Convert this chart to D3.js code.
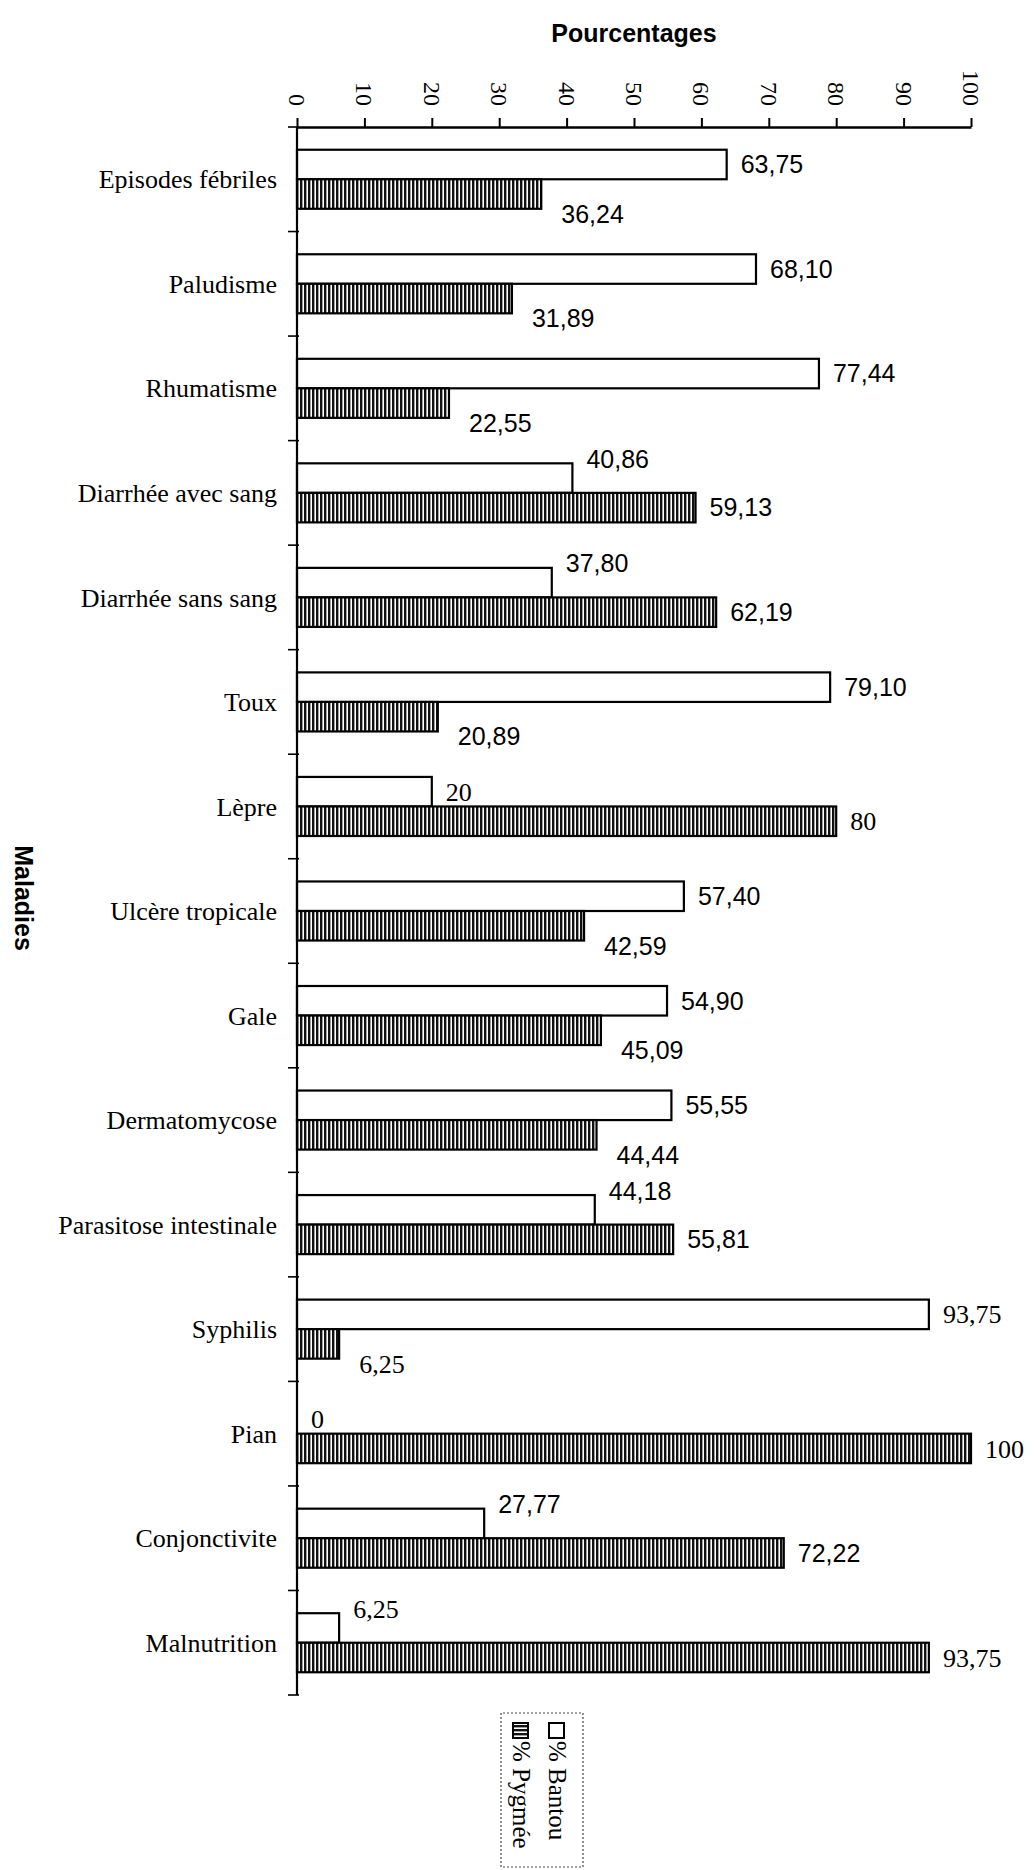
<!DOCTYPE html>
<html>
<head>
<meta charset="utf-8">
<script src="https://cdn.jsdelivr.net/npm/d3@7"></script>
<style>
  html, body { margin: 0; padding: 0; background: #fff; }
  svg { display: block; }
</style>
</head>
<body>
<script>
// ---------------- data ----------------
const categories = ["Episodes fébriles","Paludisme","Rhumatisme","Diarrhée avec sang","Diarrhée sans sang","Toux","Lèpre","Ulcère tropicale","Gale","Dermatomycose","Parasitose intestinale","Syphilis","Pian","Conjonctivite","Malnutrition"];
const bantou = [63.75, 68.10, 77.44, 40.86, 37.80, 79.10, 20, 57.40, 54.90, 55.55, 44.18, 93.75, 0, 27.77, 6.25];
const pygmee = [36.24, 31.89, 22.55, 59.13, 62.19, 20.89, 80, 42.59, 45.09, 44.44, 55.81, 6.25, 100, 72.22, 93.75];
const seriesNames = ["% Bantou", "% Pygmée"];
const xTicks = [0, 10, 20, 30, 40, 50, 60, 70, 80, 90, 100];
const xTitle = "Pourcentages";
const yTitle = "Maladies";

// ---------------- layout ----------------
const W = 1034, H = 1870;
const mLeft = 297, mRight = 971, mTop = 127, mBottom = 1695;
const serifValueCats = new Set(["Lèpre", "Syphilis", "Pian", "Malnutrition"]);
const centeredLabels = new Set(["Lèpre|0", "Pian|0"]);

const svg = d3.select("body").append("svg").attr("width", W).attr("height", H);
svg.append("rect").attr("width", W).attr("height", H).attr("fill", "#fff");

const defs = svg.append("defs");
const pat = defs.append("pattern").attr("id", "hatch").attr("patternUnits", "userSpaceOnUse")
  .attr("width", 4).attr("height", 8);
pat.append("rect").attr("width", 4).attr("height", 8).attr("fill", "#fff");
pat.append("rect").attr("x", 0).attr("width", 2.4).attr("height", 8).attr("fill", "#111");

const x = d3.scaleLinear().domain([0, 100]).range([mLeft, mRight]);
const y = d3.scaleBand().domain(categories).range([mTop, mBottom]).paddingInner(0.435).paddingOuter(0.2175);
const ys = d3.scaleBand().domain([0, 1]).range([0, y.bandwidth()]);

const fmt = v => Number.isInteger(v) ? String(v) : v.toFixed(2).replace(".", ",");

// ---------------- bars ----------------
const rows = categories.map((c, i) => ({ c, vals: [bantou[i], pygmee[i]] }));
const g = svg.append("g");
rows.forEach(r => {
  r.vals.forEach((v, s) => {
    g.append("rect")
      .attr("x", x(0))
      .attr("y", y(r.c) + ys(s))
      .attr("width", Math.max(0, x(v) - x(0)))
      .attr("height", ys.bandwidth())
      .attr("fill", s === 0 ? "#fff" : "url(#hatch)")
      .attr("stroke", "#000")
      .attr("stroke-width", 2.2);
  });
});

// ---------------- value labels ----------------
rows.forEach(r => {
  r.vals.forEach((v, s) => {
    const other = r.vals[1 - s];
    const cy = y(r.c) + ys(s) + ys.bandwidth() / 2;
    let dy = 0, dx = 14;
    if (v < other && !centeredLabels.has(r.c + "|" + s)) {
      if (s === 0) { dy = -19; dx = 14; } else { dy = 20; dx = 20; }
    }
    const serif = serifValueCats.has(r.c);
    svg.append("text")
      .attr("x", x(v) + dx)
      .attr("y", cy + dy)
      .attr("dy", "0.35em")
      .attr("font-family", serif ? "'Liberation Serif', serif" : "'Liberation Sans', Arial, sans-serif")
      .attr("font-size", serif ? 26 : 25)
      .attr("fill", "#000")
      .text(fmt(v));
  });
});

// ---------------- top axis ----------------
const xAxis = svg.append("g").attr("transform", `translate(0,${mTop})`)
  .call(d3.axisTop(x).tickValues(xTicks).tickSize(9).tickSizeOuter(0).tickFormat(d => d));
xAxis.select(".domain").attr("stroke", "#000").attr("stroke-width", 2.4);
xAxis.selectAll(".tick line").attr("stroke", "#000").attr("stroke-width", 2);
xAxis.selectAll(".tick text")
  .attr("x", null).attr("y", null)
  .attr("transform", "translate(0,-21) rotate(90)")
  .attr("text-anchor", "end")
  .attr("dy", "0.35em")
  .attr("font-family", "'Liberation Serif', serif")
  .attr("font-size", 24)
  .attr("fill", "#000");

// ---------------- left axis ----------------
svg.append("line").attr("x1", mLeft).attr("x2", mLeft).attr("y1", mTop).attr("y2", mBottom)
  .attr("stroke", "#000").attr("stroke-width", 2.2);
const bounds = d3.range(categories.length + 1).map(i => y.range()[0] + i * y.step());
svg.selectAll(".ytick").data(bounds).enter().append("line")
  .attr("x1", mLeft - 9).attr("x2", mLeft + 2).attr("y1", d => d).attr("y2", d => d)
  .attr("stroke", "#000").attr("stroke-width", 1.6);

svg.selectAll(".ylab").data(categories).enter().append("text")
  .attr("x", mLeft - 20)
  .attr("y", d => y(d) + y.bandwidth() / 2)
  .attr("dy", "0.35em")
  .attr("text-anchor", "end")
  .attr("font-family", "'Liberation Serif', serif")
  .attr("font-size", 26)
  .attr("fill", "#000")
  .text(d => d);

// ---------------- titles ----------------
svg.append("text")
  .attr("x", (mLeft + mRight) / 2).attr("y", 42)
  .attr("text-anchor", "middle")
  .attr("font-family", "'Liberation Sans', Arial, sans-serif")
  .attr("font-weight", "bold").attr("font-size", 25)
  .text(xTitle);

svg.append("text")
  .attr("transform", "translate(24,898) rotate(90)")
  .attr("text-anchor", "middle").attr("dy", "0.35em")
  .attr("font-family", "'Liberation Sans', Arial, sans-serif")
  .attr("font-weight", "bold").attr("font-size", 25)
  .text(yTitle);

// ---------------- legend (rotated) ----------------
const lg = svg.append("g").attr("transform", "translate(583,1713) rotate(90)");
lg.append("rect").attr("x", 0).attr("y", 0).attr("width", 154).attr("height", 82)
  .attr("fill", "#fff").attr("stroke", "#444").attr("stroke-width", 1.2).attr("stroke-dasharray", "2,2");
seriesNames.forEach((name, s) => {
  const base = 34 + s * 36;
  lg.append("rect").attr("x", 10).attr("y", base - 15).attr("width", 15).attr("height", 15)
    .attr("fill", s === 0 ? "#fff" : "url(#hatch)").attr("stroke", "#000").attr("stroke-width", 2);
  lg.append("text").attr("x", 28).attr("y", base)
    .attr("font-family", "'Liberation Serif', serif").attr("font-size", 25)
    .attr("fill", "#000").text(name);
});
</script>
</body>
</html>
